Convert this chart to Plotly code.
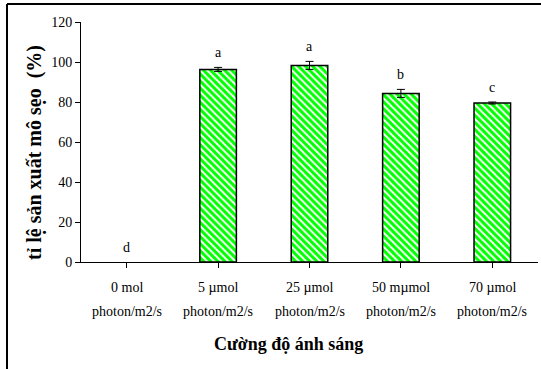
import plotly.graph_objects as go

# Light-intensity treatments and callus induction rate (%)
cat_line1 = ["0 mol", "5 µmol", "25 µmol", "50 mµmol", "70 µmol"]
cat_line2 = ["photon/m2/s"] * 5
rate = [0, 96.3, 98.3, 84.3, 79.5]
err = [None, 1.0, 2.0, 2.0, 0.5]
letters = ["d", "a", "a", "b", "c"]

W, H = 541, 369
ML, MR, MT, MB = 81, 3, 22, 107
FONT = "Times New Roman, Liberation Serif, DejaVu Serif, serif"

x = list(range(len(rate)))

fig = go.Figure()
fig.add_trace(go.Bar(
    x=x, y=rate, width=0.4,
    marker=dict(
        color="#00ff00",
        line=dict(color="black", width=[1.5 if v > 0 else 0 for v in rate]),
        pattern=dict(shape="\\", fgcolor="white", bgcolor="#00ff00",
                     size=5, solidity=0.4, fillmode="replace"),
    ),
    showlegend=False,
))

# error bars only where a standard error was measured
ex = [xi for xi, e in zip(x, err) if e is not None]
ey = [v for v, e in zip(rate, err) if e is not None]
ee = [e for e in err if e is not None]
fig.add_trace(go.Scatter(
    x=ex, y=ey, mode="markers", marker=dict(size=1, color="rgba(0,0,0,0)"),
    error_y=dict(type="data", array=ee, visible=True, color="black",
                 thickness=1, width=4),
    showlegend=False, hoverinfo="skip",
))

annotations = []
# significance letters above each bar
for xi, v, e, t in zip(x, rate, err, letters):
    annotations.append(dict(x=xi, y=v + (e or 0), xref="x", yref="y", text=t,
                            showarrow=False, yanchor="bottom", yshift=5,
                            font=dict(family=FONT, size=14, color="black")))
# two-line category labels
for xi, l1, l2 in zip(x, cat_line1, cat_line2):
    annotations.append(dict(x=xi, y=0, xref="x", yref="paper", text=l1,
                            showarrow=False, yanchor="middle", yshift=-25,
                            font=dict(family=FONT, size=14, color="black")))
    annotations.append(dict(x=xi, y=0, xref="x", yref="paper", text=l2,
                            showarrow=False, yanchor="middle", yshift=-49,
                            font=dict(family=FONT, size=14, color="black")))
# axis titles
pw, ph = W - ML - MR, H - MT - MB
annotations.append(dict(x=(288 - ML) / pw, y=0, xref="paper", yref="paper",
                        text="<b>Cường độ ánh sáng</b>", showarrow=False,
                        yanchor="middle", yshift=-82,
                        font=dict(family=FONT, size=18, color="black")))
annotations.append(dict(x=(34 - ML) / pw, y=(H - MB - 153) / ph,
                        xref="paper", yref="paper",
                        text="<b>tỉ lệ sản xuất mô sẹo  (%)</b>",
                        showarrow=False, textangle=-90,
                        xanchor="center", yanchor="middle",
                        font=dict(family=FONT, size=20, color="black")))

# outer frame (top and left edges)
def px_x(p):
    return (p - ML) / pw

def px_y(p):
    return (H - MB - p) / ph

shapes = [
    dict(type="line", xref="paper", yref="paper", x0=px_x(7), x1=px_x(545),
         y0=px_y(4), y1=px_y(4), line=dict(color="black", width=2)),
    dict(type="line", xref="paper", yref="paper", x0=px_x(7), x1=px_x(7),
         y0=px_y(4), y1=px_y(372), line=dict(color="black", width=2)),
]

fig.update_layout(
    width=W, height=H,
    margin=dict(l=ML, r=MR, t=MT, b=MB, pad=0),
    paper_bgcolor="white", plot_bgcolor="white",
    font=dict(family=FONT, size=14, color="black"),
    annotations=annotations, shapes=shapes,
    xaxis=dict(range=[-0.5, len(rate) - 0.5], tickvals=x,
               ticktext=[""] * len(x), tickson="boundaries",
               ticks="outside", ticklen=5, tickcolor="black",
               showline=True, linecolor="black", linewidth=1,
               showgrid=False, zeroline=False, fixedrange=True),
    yaxis=dict(range=[0, 120], tickvals=[0, 20, 40, 60, 80, 100, 120],
               ticks="outside", ticklen=5, tickcolor="black",
               showline=True, linecolor="black", linewidth=1,
               showgrid=False, zeroline=False,
               tickfont=dict(family=FONT, size=14, color="black")),
)

fig.write_html("out.html")
